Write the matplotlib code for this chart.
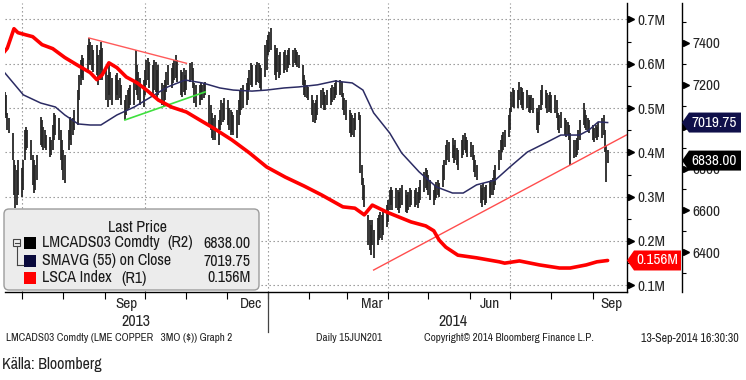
import matplotlib
matplotlib.use("Agg")
import matplotlib.pyplot as plt
from matplotlib.transforms import blended_transform_factory, IdentityTransform
from matplotlib.patches import Polygon, FancyBboxPatch, Rectangle
from matplotlib.lines import Line2D
import pandas as pd

# ---------------- data ----------------
bar_start, bar_end = "2013-06-17", "2014-09-12"
price_high = [
    7175, 7166, 7152, 7065, 7042, 6970, 6841, 6817, 6793, 6841,
    6803, 6841, 6984, 6999, 6984, 6937, 6865, 6841, 6817, 6865,
    7046, 7032, 6999, 6984, 6960, 6951, 6937, 7008, 7065, 7056,
    7042, 6984, 6937, 6889, 6865, 6984, 7046, 7032, 7042, 7080,
    7175, 7247, 7319, 7343, 7328, 7390, 7424, 7405, 7390, 7367,
    7390, 7343, 7367, 7405, 7376, 7271, 7247, 7295, 7261, 7233,
    7247, 7257, 7223, 7233, 7199, 7128, 7152, 7175, 7185, 7199,
    7223, 7367, 7295, 7261, 7233, 7223, 7271, 7319, 7328, 7309,
    7295, 7319, 7309, 7271, 7295, 7209, 7199, 7223, 7261, 7295,
    7281, 7304, 7319, 7343, 7319, 7271, 7261, 7281, 7247, 7271,
    7304, 7309, 7281, 7209, 7199, 7199, 7209, 7199, 7204, 7214,
    7152, 7104, 7065, 7042, 7056, 7032, 7080, 7128, 7113, 7137,
    7128, 7089, 7080, 7070, 7056, 7080, 7128, 7175, 7185, 7199,
    7209, 7233, 7271, 7304, 7295, 7295, 7309, 7304, 7295, 7281,
    7390, 7414, 7438, 7453, 7472, 7390, 7367, 7376, 7343, 7357,
    7357, 7367, 7343, 7367, 7376, 7367, 7376, 7367, 7357, 7343,
    7295, 7247, 7223, 7199, 7190, 7152, 7128, 7113, 7128, 7152,
    7175, 7185, 7166, 7152, 7175, 7185, 7199, 7190, 7209, 7223,
    7223, 7214, 7161, 7137, 7128, 7080, 7065, 7056, 7042, 7065,
    7070, 7056, 6817, 6755, 6722, 6578, 6554, 6530, 6554, 6507,
    6564, 6578, 6593, 6578, 6602, 6626, 6650, 6698, 6712, 6698,
    6707, 6698, 6688, 6707, 6722, 6698, 6674, 6688, 6707, 6698,
    6698, 6707, 6688, 6712, 6745, 6784, 6803, 6793, 6769, 6745,
    6698, 6722, 6736, 6745, 6731, 6817, 6841, 6913, 6937, 6927,
    6946, 6913, 6937, 6898, 6889, 6937, 6960, 6970, 6951, 6937,
    6927, 6913, 6865, 6841, 6817, 6722, 6707, 6731, 6712, 6722,
    6736, 6745, 6755, 6793, 6817, 6889, 6937, 6960, 6975, 6984,
    7056, 7089, 7166, 7185, 7175, 7175, 7214, 7190, 7185, 7166,
    7175, 7152, 7142, 7152, 7137, 7089, 7070, 7104, 7175, 7199,
    7175, 7161, 7152, 7166, 7152, 7152, 7128, 7065, 7056, 7070,
    7042, 7032, 7023, 7008, 6970, 6937, 6937, 6946, 6984, 7032,
    7113, 7080, 7056, 7042, 7032, 7008, 6994, 7008, 6999, 7023,
    7042, 7056, 6984, 6913, 6889,
]
price_low = [
    7070, 7056, 7042, 6984, 6970, 6841, 6674, 6612, 6626, 6674,
    6664, 6698, 6841, 6889, 6898, 6841, 6722, 6683, 6698, 6745,
    6913, 6903, 6889, 6898, 6889, 6855, 6865, 6889, 6937, 6960,
    6937, 6841, 6793, 6745, 6731, 6889, 6937, 6913, 6960, 6984,
    7008, 7128, 7199, 7233, 7223, 7271, 7319, 7295, 7271, 7261,
    7247, 7199, 7223, 7271, 7223, 7128, 7094, 7152, 7128, 7104,
    7128, 7152, 7128, 7137, 7104, 7032, 7056, 7080, 7089, 7104,
    7104, 7175, 7152, 7128, 7104, 7094, 7152, 7199, 7223, 7185,
    7152, 7175, 7166, 7128, 7152, 7104, 7094, 7128, 7166, 7199,
    7185, 7209, 7223, 7233, 7214, 7152, 7142, 7166, 7152, 7175,
    7214, 7223, 7185, 7113, 7094, 7104, 7128, 7128, 7137, 7152,
    7008, 6984, 6946, 6937, 6937, 6913, 6984, 7008, 7023, 7032,
    7008, 6984, 6960, 6975, 6960, 6946, 7008, 7056, 7080, 7089,
    7104, 7128, 7175, 7199, 7190, 7199, 7214, 7209, 7185, 7175,
    7238, 7271, 7343, 7357, 7367, 7247, 7223, 7261, 7233, 7247,
    7257, 7271, 7261, 7281, 7295, 7285, 7304, 7295, 7285, 7281,
    7199, 7152, 7142, 7137, 7128, 7056, 7023, 7018, 7032, 7056,
    7089, 7104, 7080, 7080, 7104, 7104, 7118, 7128, 7137, 7152,
    7152, 7142, 7080, 7056, 7032, 6970, 6951, 6960, 6951, 6984,
    7032, 6779, 6722, 6650, 6616, 6435, 6411, 6387, 6435, 6373,
    6435, 6459, 6468, 6459, 6483, 6521, 6545, 6602, 6626, 6602,
    6612, 6602, 6588, 6612, 6626, 6593, 6588, 6602, 6616, 6626,
    6616, 6626, 6612, 6636, 6650, 6688, 6707, 6698, 6674, 6650,
    6626, 6650, 6659, 6674, 6664, 6712, 6745, 6817, 6841, 6831,
    6850, 6827, 6841, 6817, 6793, 6850, 6865, 6889, 6874, 6855,
    6855, 6841, 6784, 6760, 6745, 6636, 6616, 6650, 6626, 6636,
    6659, 6674, 6674, 6698, 6722, 6793, 6841, 6879, 6889, 6903,
    6951, 6984, 7070, 7094, 7089, 7089, 7128, 7104, 7089, 7080,
    7089, 7070, 7065, 7080, 7065, 6984, 6970, 7008, 7080, 7104,
    7089, 7065, 7070, 7080, 7065, 7065, 7042, 6984, 6970, 6994,
    6960, 6951, 6960, 6937, 6817, 6850, 6855, 6865, 6889, 6937,
    7008, 6994, 6984, 6975, 6970, 6937, 6927, 6946, 6937, 6951,
    6946, 6960, 6879, 6736, 6827,
]
last_price = 6838.00

sma_dates = ["2013-06-17", "2013-07-02", "2013-07-15", "2013-07-26", "2013-08-02",
             "2013-08-12", "2013-08-21", "2013-08-29", "2013-09-10", "2013-09-23",
             "2013-10-08", "2013-10-18", "2013-10-31", "2013-11-13", "2013-11-26",
             "2013-12-06", "2013-12-20", "2013-12-31", "2014-01-13", "2014-01-24",
             "2014-02-07", "2014-02-20", "2014-03-05", "2014-03-13", "2014-03-21",
             "2014-04-02", "2014-04-11", "2014-04-24", "2014-05-07", "2014-05-19",
             "2014-05-27", "2014-06-06", "2014-06-20", "2014-07-01", "2014-07-14",
             "2014-07-29", "2014-08-08", "2014-08-22", "2014-08-29", "2014-09-05",
             "2014-09-12"]
sma_vals = [7266, 7152, 7113, 7094, 7056, 7013, 7008, 7008, 7056, 7094,
            7152, 7190, 7223, 7209, 7185, 7175, 7170, 7175, 7185, 7190,
            7200, 7218, 7209, 7175, 7066, 6970, 6874, 6784, 6712, 6683,
            6683, 6722, 6745, 6808, 6879, 6927, 6960, 6960, 6984, 7023,
            7019.75]

lsca_dates = ["2013-06-17", "2013-06-20", "2013-06-25", "2013-06-28", "2013-07-04",
              "2013-07-09", "2013-07-16", "2013-07-24", "2013-08-02", "2013-08-13",
              "2013-08-21", "2013-08-26", "2013-08-30", "2013-09-04", "2013-09-10",
              "2013-09-17", "2013-09-25", "2013-10-02", "2013-10-11", "2013-10-21",
              "2013-11-01", "2013-11-11", "2013-11-20", "2013-12-05", "2013-12-18",
              "2013-12-31", "2014-01-14", "2014-01-28", "2014-02-10", "2014-02-26",
              "2014-03-07", "2014-03-14", "2014-03-20", "2014-03-31", "2014-04-09",
              "2014-04-18", "2014-04-29", "2014-05-05", "2014-05-09", "2014-05-14",
              "2014-05-23", "2014-06-06", "2014-06-23", "2014-06-27", "2014-07-08",
              "2014-07-23", "2014-08-07", "2014-08-15", "2014-08-27", "2014-09-04",
              "2014-09-12"]
lsca_vals = [0.624, 0.635, 0.679, 0.670, 0.665, 0.661, 0.643, 0.634, 0.614, 0.594,
             0.580, 0.564, 0.575, 0.602, 0.591, 0.570, 0.557, 0.541, 0.518, 0.502,
             0.491, 0.473, 0.457, 0.428, 0.399, 0.367, 0.344, 0.324, 0.304, 0.277,
             0.274, 0.259, 0.281, 0.265, 0.254, 0.243, 0.234, 0.223, 0.202, 0.186,
             0.168, 0.162, 0.153, 0.150, 0.155, 0.146, 0.139, 0.139, 0.146, 0.153,
             0.156]

trend_upper = (["2013-08-20", "2013-11-01"], [7424, 7303])
trend_green = (["2013-09-16", "2013-11-15"], [7032, 7166])
trend_lower = (["2014-03-21", "2014-09-26"], [6315, 6960])

r1_ticks = [0.1, 0.2, 0.3, 0.4, 0.5, 0.6, 0.7]
r1_minor = [0.15, 0.25, 0.35, 0.45, 0.55, 0.65]
r2_ticks = [6400, 6600, 6800, 7000, 7200, 7400]
r2_minor = [6300, 6500, 6700, 6900, 7100, 7300, 7500]
grid_dates = ["2013-07-01", "2013-10-01", "2014-01-01", "2014-04-01", "2014-07-01"]
month_ticks = pd.date_range("2013-07-01", "2014-09-01", freq="MS")
month_labels = [("2013-09-17", "Sep"), ("2013-12-19", "Dec"), ("2014-03-20", "Mar"),
                ("2014-06-16", "Jun"), ("2014-09-15", "Sep")]
year_labels = [("2013-09-24", "2013"), ("2014-05-19", "2014")]
year_split = "2014-01-01"

# ---------------- fonts ----------------
FONT = ["Archivo Narrow", "Liberation Sans", "DejaVu Sans"]
plt.rcParams["font.family"] = FONT

W, H = 746, 380
fig = plt.figure(figsize=(W / 100, H / 100), dpi=100)
ax = fig.add_axes([5 / W, (H - 292) / H, 622 / W, 289 / H])
ax2 = ax.twinx()
ax.set_zorder(2)
ax2.set_zorder(1)
ax.patch.set_visible(False)

xl = (pd.Timestamp("2013-06-18 07:00"), pd.Timestamp("2014-09-26 12:00"))
ax.set_xlim(*xl)
ax.set_ylim(0.0849, 0.737)
ax2.set_ylim(6210, 7591)

dates = pd.bdate_range(bar_start, bar_end)
ax2.vlines(dates, price_low, price_high, color="#262626", lw=1.3, zorder=2)
ax2.plot(pd.to_datetime(sma_dates), sma_vals, color="#2b2b63", lw=1.1, zorder=3)
ax2.plot(pd.to_datetime(trend_upper[0]), trend_upper[1], color="#ff5a5a", lw=1.0, zorder=4)
ax2.plot(pd.to_datetime(trend_green[0]), trend_green[1], color="#3ee03e", lw=1.2, zorder=4)
ax2.plot(pd.to_datetime(trend_lower[0]), trend_lower[1], color="#ff4d4d", lw=1.0, zorder=4,
         clip_on=False)
ax.plot(pd.to_datetime(lsca_dates), lsca_vals, color="#ff0000", lw=2.6,
        solid_capstyle="round", solid_joinstyle="round", zorder=5)

# grid
gstyle = dict(color="#8c8c8c", lw=0.8, ls=(0, (1.2, 2.4)), zorder=0.5)
th = blended_transform_factory(ax2.transAxes, ax.transData)
for v in r1_ticks:
    ax2.plot([0, 1], [v, v], transform=th, **gstyle)
for d in grid_dates:
    ax2.axvline(pd.Timestamp(d), **gstyle)

# spines
for s in ["left", "top"]:
    ax.spines[s].set_visible(False)
for s in ["left", "top", "bottom"]:
    ax2.spines[s].set_visible(False)
ax.spines["right"].set_linewidth(1.0)
ax.spines["bottom"].set_linewidth(1.0)
ax2.spines["right"].set_position(("axes", 677 / 622))
ax2.spines["right"].set_linewidth(1.0)

tick_color = "#262626"
ax.yaxis.tick_right()
ax.set_yticks(r1_ticks)
ax.set_yticklabels([f"{v:.1f}M" for v in r1_ticks])
ax.set_yticks(r1_minor, minor=True)
ax.tick_params(axis="y", which="major", length=0, pad=7.5, labelsize=11, labelcolor=tick_color)
ax.tick_params(axis="y", which="minor", length=3, width=0.8, direction="out")
ax2.set_yticks(r2_ticks)
ax2.set_yticklabels([f"{v}" for v in r2_ticks])
ax2.set_yticks(r2_minor, minor=True)
ax2.tick_params(axis="y", which="major", length=0, pad=7.5, labelsize=11, labelcolor=tick_color)
ax2.tick_params(axis="y", which="minor", length=3, width=0.8, direction="out")

ax.set_xticks(month_ticks)
ax.set_xticklabels([])
ax.tick_params(axis="x", which="major", length=5, width=0.8, direction="out")
ax.set_xlim(*xl)

# triangle tick markers
t1 = blended_transform_factory(ax.transAxes, ax.transData)
ax.plot([1 + 4 / 622] * len(r1_ticks), r1_ticks, ls="none", marker=">", ms=5,
        color="black", transform=t1, clip_on=False, zorder=6)
t2 = blended_transform_factory(ax2.transAxes, ax2.transData)
ax2.plot([1 + 59 / 622] * len(r2_ticks), r2_ticks, ls="none", marker=">", ms=5,
         color="black", transform=t2, clip_on=False, zorder=6)

# x labels
tx = blended_transform_factory(ax.transData, ax.transAxes)
for d, s in month_labels:
    ax.text(pd.Timestamp(d), -12 / 289, s, transform=tx, ha="center", va="center",
            fontsize=11, color=tick_color)
for d, s in year_labels:
    ax.text(pd.Timestamp(d), -30 / 289, s, transform=tx, ha="center", va="center",
            fontsize=11.5, color=tick_color)
ax.add_line(Line2D([pd.Timestamp(year_split)] * 2, [0, -40 / 289], transform=tx,
                   color="#444444", lw=0.9, clip_on=False))

ID = IdentityTransform()


def px(x, y):
    return x, H - y


def flag(yc, x0, x1, text, fc):
    h = 20
    tip = 7
    verts = [(x0, yc), (x0 + tip, yc + h / 2), (x1, yc + h / 2), (x1, yc - h / 2),
             (x0 + tip, yc - h / 2)]
    fig.add_artist(Polygon(verts, closed=True, transform=ID, fc=fc, ec="none", zorder=20))
    fig.text(x0 + tip + 2, yc, text, transform=ID, color="white", fontsize=11,
             va="center", ha="left", zorder=21)


y_sma = ax2.transData.transform((0, sma_vals[-1]))[1]
y_last = ax2.transData.transform((0, last_price))[1]
y_lsca = ax.transData.transform((0, lsca_vals[-1]))[1]
flag(y_sma, 682, 741, f"{sma_vals[-1]:.2f}", "#10104a")
flag(y_last, 682, 741, f"{last_price:.2f}", "#000000")
flag(y_lsca, 627, 681, f"{lsca_vals[-1]:.3f}M", "#ff0000")

# legend box
fig.add_artist(FancyBboxPatch(px(4, 290), 255, 81, boxstyle="round,pad=0,rounding_size=5",
                              transform=ID, fc="#ececec", ec="#9c9c9c", lw=1.0, zorder=10))
lt = dict(transform=ID, fontsize=11.5, color="#1a1a1a", va="center", zorder=12)
fig.text(*px(137, 227), "Last Price", ha="center", **lt)
rows = [(243, "#000000", "LMCADS03 Comdty", "(R2)", 167, f"{last_price:.2f}"),
        (261, "#0a0a3c", "SMAVG (55) on Close", "", 0, f"{sma_vals[-1]:.2f}"),
        (278, "#ff0000", "LSCA Index", "(R1)", 121, f"{lsca_vals[-1]:.3f}M")]
for y, c, name, tag, tx_, val in rows:
    fig.add_artist(Rectangle(px(24, y + 6), 12, 12, transform=ID, fc=c, ec="none", zorder=11))
    fig.text(*px(42, y), name, ha="left", **lt)
    if tag:
        fig.text(*px(tx_, y), tag, ha="left", **lt)
    fig.text(*px(251, y), val, ha="right", **lt)
fig.add_artist(Rectangle(px(13, 246), 7, 7, transform=ID, fc="#ececec", ec="#444444",
                         lw=0.8, zorder=11))
fig.add_artist(Line2D([14.5, 18.5], [H - 242.5] * 2, transform=ID, color="#444444", lw=0.8, zorder=12))
fig.add_artist(Line2D([16.5, 16.5], [H - 246, H - 265], transform=ID, color="#444444", lw=0.8, zorder=12))
fig.add_artist(Line2D([16.5, 23], [H - 265, H - 265], transform=ID, color="#444444", lw=0.8, zorder=12))

# footer
ft = dict(transform=ID, fontsize=8, color="#222222", va="center")
fig.text(*px(6, 338), "LMCADS03 Comdty (LME COPPER   3MO ($)) Graph 2", ha="left", **ft)
fig.text(*px(316, 338), "Daily 15JUN201", ha="left", **ft)
fig.text(*px(424, 338), "Copyright\u00a9 2014 Bloomberg Finance L.P.", ha="left", **ft)
fig.text(*px(739, 338), "13-Sep-2014 16:30:30", ha="right", transform=ID, fontsize=8.6,
         color="#222222", va="center")
fig.text(*px(2, 364), "K\u00e4lla: Bloomberg", ha="left", transform=ID, fontsize=11.5,
         color="#222222", va="center")

fig.savefig("out.png", dpi=100)
